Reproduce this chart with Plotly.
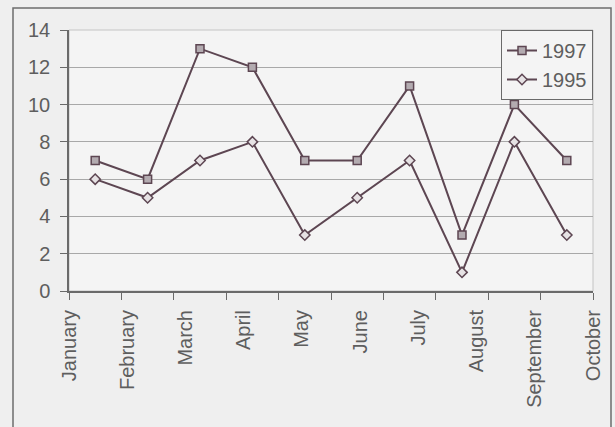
import plotly.graph_objects as go

months = ["January", "February", "March", "April", "May", "June",
          "July", "August", "September", "October"]
series_1997 = [7, 6, 13, 12, 7, 7, 11, 3, 10, 7]
series_1995 = [6, 5, 7, 8, 3, 5, 7, 1, 8, 3]
y_ticks = [0, 2, 4, 6, 8, 10, 12, 14]

n = len(months)
x_pos = [i + 0.5 for i in range(n)]          # category centres
tick_marks = list(range(n + 1))               # category boundaries
label_pos = [i * n / (n - 1) for i in range(n)]

line_col = "#5d4652"
text_col = "#5e5e5e"
font = dict(family="Liberation Sans, Arial, sans-serif", size=20, color=text_col)

fig = go.Figure()
fig.add_trace(go.Scatter(
    x=x_pos, y=series_1997, name="1997", mode="lines+markers",
    line=dict(color=line_col, width=2),
    marker=dict(symbol="square", size=8, color="#b3abb0",
                line=dict(color=line_col, width=1.5)),
))
fig.add_trace(go.Scatter(
    x=x_pos, y=series_1995, name="1995", mode="lines+markers",
    line=dict(color=line_col, width=2),
    marker=dict(symbol="diamond", size=8, color="#e6e2e4",
                line=dict(color=line_col, width=1.5)),
))
# helper so the label axis is rendered
fig.add_trace(go.Scatter(x=[None], y=[None], xaxis="x2", showlegend=False,
                         hoverinfo="skip"))

fig.update_layout(
    width=615, height=427,
    margin=dict(l=69, r=22, t=30, b=136),
    paper_bgcolor="#efefef",
    plot_bgcolor="#f4f4f4",
    font=font,
    showlegend=True,
    legend=dict(x=1, y=1, xanchor="right", yanchor="top",
                bgcolor="#f4f4f4", bordercolor="#6a6a6a", borderwidth=1,
                font=font, tracegroupgap=0, itemwidth=30),
    xaxis=dict(range=[0, n], tickmode="array", tickvals=tick_marks,
               showticklabels=False, ticks="outside", ticklen=7,
               tickcolor="#6a6a6a", showgrid=False, zeroline=False,
               showline=True, linecolor="#6a6a6a", linewidth=1.5),
    xaxis2=dict(range=[0, n], overlaying="x", side="bottom", anchor="y",
                tickmode="array", tickvals=label_pos, ticktext=months,
                tickangle=-90, ticks="", ticklen=0, showgrid=False,
                zeroline=False, showline=False, tickfont=font,
                ticklabelstandoff=14),
    yaxis=dict(range=[0, 14], tickmode="array", tickvals=y_ticks,
               ticks="outside", ticklen=7, tickcolor="#6a6a6a",
               showgrid=True, gridcolor="#a8a8a8", gridwidth=1,
               zeroline=False, showline=True, linecolor="#6a6a6a",
               linewidth=1.5, tickfont=font, ticklabelstandoff=6),
    shapes=[
        dict(type="rect", xref="paper", yref="paper", x0=0, x1=1, y0=0, y1=1,
             line=dict(color="#c4c4c4", width=1), layer="below"),
        dict(type="rect", xref="paper", yref="paper",
             x0=-56 / 524, x1=(611 - 69) / 524, y0=-140 / 261, y1=(291 - 8) / 261,
             line=dict(color="#6e6e6e", width=1.5)),
    ],
)

fig.write_html("out.html")
